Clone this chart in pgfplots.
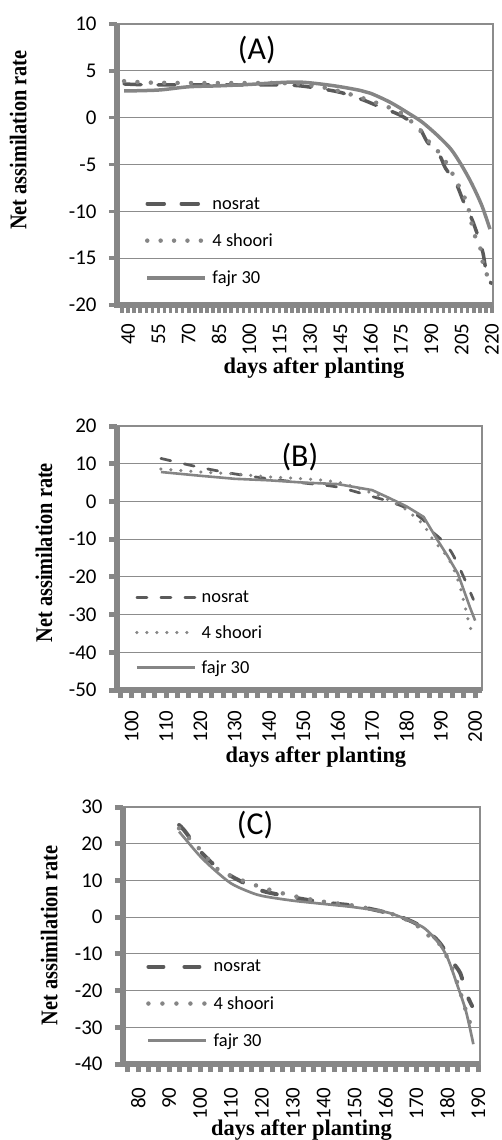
\documentclass[border=0pt]{standalone}
\usepackage{pgfplots}
\pgfplotsset{compat=1.18}
\usepackage{fontspec}
\setmainfont{Liberation Serif}
\newfontfamily\carlito{Carlito}

\definecolor{axc}{HTML}{878787}
\definecolor{gridc}{HTML}{8C8C8C}
\definecolor{darkc}{HTML}{5A5A5A}
\definecolor{lightc}{HTML}{858585}

\pgfplotsset{
  panel/.style={
    scale only axis, clip=false,
    axis line style={draw=gridc, line width=1.2bp},
    ymajorgrids, grid style={draw=gridc, line width=1.2bp},
    tick align=outside, xtick pos=left, ytick pos=left,
    major tick length=8bp, minor tick length=8bp,
    tick style={draw=axc, line width=3.5bp},
    /pgf/number format/assume math mode=true,
    tick label style={font=\carlito\fontsize{21}{21}\selectfont},
    y tick label style={xshift=-9bp},
    x tick label style={rotate=90, anchor=east},
    xlabel={days after planting},
    ylabel={\scalebox{0.85}[1]{Net assimilation rate}},
    label style={font=\bfseries\fontsize{22.5}{22.5}\selectfont},
    ylabel style={font=\bfseries\fontsize{24}{24}\selectfont},
    legend cell align=left,
    legend style={draw=none, fill=none, font=\carlito\fontsize{18.5}{18.5}\selectfont,
      row sep=19bp, /tikz/every odd column/.append style={column sep=3bp}},
    legend image code/.code={\draw[##1] (0bp,0bp) -- (58bp,0bp);},
    after end axis/.append code={
      \draw[axc, line width=6bp] (rel axis cs:0,1) -- (rel axis cs:0,0) -- (rel axis cs:1,0);
    },
  },
}

\begin{document}
\begin{tikzpicture}
\useasboundingbox (0,0) rectangle (502bp,-1140bp);

% ---- (A)
\begin{axis}[panel,
  at={(117bp,-305bp)}, anchor=south west, width=376bp, height=281bp,
  xmin=34.5, xmax=220.5, ymin=-20, ymax=10,
  xtick={40,55,...,220}, minor xtick={34,37,...,220}, ytick={-20,-15,...,10},
  x tick label style={xshift=-7bp},
  xlabel style={at={(axis description cs:0.524,-0.224)}, anchor=center},
  ylabel style={at={(axis description cs:-0.263,0.587)}, anchor=center},
  legend style={at={(rel axis cs:0.066,0.398)}, anchor=north west},
]
\addplot[darkc, line width=3.5bp, line cap=round, dash pattern=on 17bp off 17bp, smooth, tension=0.5]
  coordinates {(38,3.6) (50,3.5) (70,3.5) (100,3.5) (115,3.5) (125,3.4) (135,3.1) (145,2.7)
    (155,2.0) (163,1.3) (170,0.7) (176,0.1) (184,-1.1) (188,-2.6) (194,-4.0) (197,-5.4)
    (202,-6.9) (206,-9.0) (210,-10.8) (213,-12.6) (215.5,-14.4) (217,-16.2) (219.5,-17.7)};
\addplot[lightc, line width=4.5bp, line cap=round, dash pattern=on 0bp off 13.4bp, smooth, tension=0.5]
  coordinates {(38,3.9) (50,3.75) (70,3.7) (100,3.7) (115,3.7) (125,3.6) (135,3.3) (145,2.8)
    (160,1.8) (175,0.5) (185,-1.5) (190,-2.9) (195,-4.0) (200,-5.8) (205,-7.9) (208,-9.4)
    (211,-12.3) (214,-13.7) (215,-15.1) (217,-16.4) (219,-18.0)};
\addplot[lightc, line width=3.5bp, smooth, tension=0.5]
  coordinates {(38,2.85) (55,2.95) (70,3.3) (85,3.4) (100,3.55) (115,3.75) (125,3.8) (135,3.6)
    (145,3.3) (155,2.9) (160,2.6) (170,1.6) (180,0.3) (185,-0.4) (190,-1.3) (195,-2.3)
    (200,-3.45) (205,-5.1) (210,-7.05) (215,-9.4) (219,-11.9)};
\legend{nosrat, 4 shoori, fajr 30}
\node[font=\carlito\fontsize{32}{32}\selectfont] at (rel axis cs:0.372,0.907) {(A)};
\end{axis}

% ---- (B)
\begin{axis}[panel,
  at={(117bp,-690bp)}, anchor=south west, width=365bp, height=264bp,
  xmin=95.7, xmax=202, ymin=-50, ymax=20,
  xtick={100,110,...,200}, minor xtick={96.6667,100,...,202}, ytick={-50,-40,...,20},
  tick style={line width=5bp},
  x tick label style={xshift=-9bp},
  xlabel style={at={(axis description cs:0.545,-0.254)}, anchor=center},
  ylabel style={at={(axis description cs:-0.2,0.52)}, anchor=center},
  legend style={at={(rel axis cs:0.041,0.39)}, anchor=north west, row sep=17bp},
]
\addplot[darkc, line width=2.75bp, line cap=round, dash pattern=on 10bp off 14bp, smooth, tension=0.5]
  coordinates {(108.5,11.4) (120,9.0) (130,7.3) (140,6.0) (150,4.9) (160,3.8) (170,1.3)
    (175,0.0) (180,-1.8) (185,-5.0) (187,-7.6) (190,-10.0) (193,-13.3) (196,-18.7) (199.5,-26.0)};
\addplot[lightc, line width=3.5bp, line cap=round, dash pattern=on 0bp off 10bp, smooth, tension=0.5]
  coordinates {(108.5,8.6) (120,7.8) (130,7.3) (140,6.5) (150,6.0) (160,5.1) (170,2.2)
    (175,0.3) (180,-2.2) (182,-3.8) (185,-6.3) (188,-10.5) (191,-13.6) (193.4,-17.2)
    (195.5,-22.3) (197,-27.7) (198,-31.5) (199.4,-36.0)};
\addplot[lightc, line width=2.6bp]
  coordinates {(108.5,7.8) (120,6.8) (130,6.0) (140,5.6) (150,5.0) (160,4.6) (170,3.0)
    (175,0.9) (180,-1.3) (185,-4.1) (189,-10.2) (192,-14.5) (195,-19.2) (198.5,-28.1) (200,-31.6)};
\legend{nosrat, 4 shoori, fajr 30}
\node[font=\carlito\fontsize{32}{32}\selectfont] at (rel axis cs:0.501,0.883) {(B)};
\end{axis}

% ---- (C)
\begin{axis}[panel,
  at={(123bp,-1064bp)}, anchor=south west, width=357bp, height=257bp,
  xmin=75.05, xmax=190.55, ymin=-40, ymax=30,
  xtick={80,90,...,190}, minor xtick={76.6667,80,...,190}, ytick={-40,-30,...,30},
  tick style={line width=5bp},
  x tick label style={xshift=-12bp},
  xlabel style={at={(axis description cs:0.5,-0.257)}, anchor=center},
  ylabel style={at={(axis description cs:-0.207,0.5)}, anchor=center},
  legend style={at={(rel axis cs:0.056,0.42)}, anchor=north west},
]
\addplot[darkc, line width=4bp, line cap=round, dash pattern=on 15bp off 21bp, smooth, tension=0.5]
  coordinates {(93.2,25.1) (95,23.5) (100,18.0) (105,13.9) (110,11.2) (115,9.0) (120,7.2)
    (125,6.2) (130,5.4) (140,4.0) (150,3.1) (160,1.3) (165,0.0) (170,-1.8) (174.5,-4.5)
    (177.7,-7.2) (181.2,-11.7) (184.2,-15.3) (185.8,-20.2) (188,-24.2)};
\addplot[lightc, line width=4.5bp, line cap=round, dash pattern=on 0bp off 14bp, smooth, tension=0.5]
  coordinates {(93.2,24.2) (100,18.4) (105,13.5) (110,11.2) (120,8.1) (130,5.8) (140,4.2)
    (150,3.1) (160,1.3) (165,0.0) (170,-2.2) (175,-5.8) (177,-6.8) (180,-11.0) (182,-15.0)
    (184,-20.0) (186,-25.5) (188,-30.5)};
\addplot[lightc, line width=2.7bp, smooth, tension=0.5]
  coordinates {(93.2,23.3) (95,21.5) (100,16.6) (105,12.6) (110,9.2) (115,7.2) (120,5.8)
    (130,4.5) (140,3.6) (150,2.7) (160,1.4) (165,0.0) (170,-1.8) (173,-3.3) (177,-6.8)
    (180,-11.0) (183,-18.0) (186,-25.6) (188.4,-34.6)};
\legend{nosrat, 4 shoori, fajr 30}
\node[font=\carlito\fontsize{32}{32}\selectfont] at (rel axis cs:0.37,0.93) {(C)};
\end{axis}
\end{tikzpicture}
\end{document}
